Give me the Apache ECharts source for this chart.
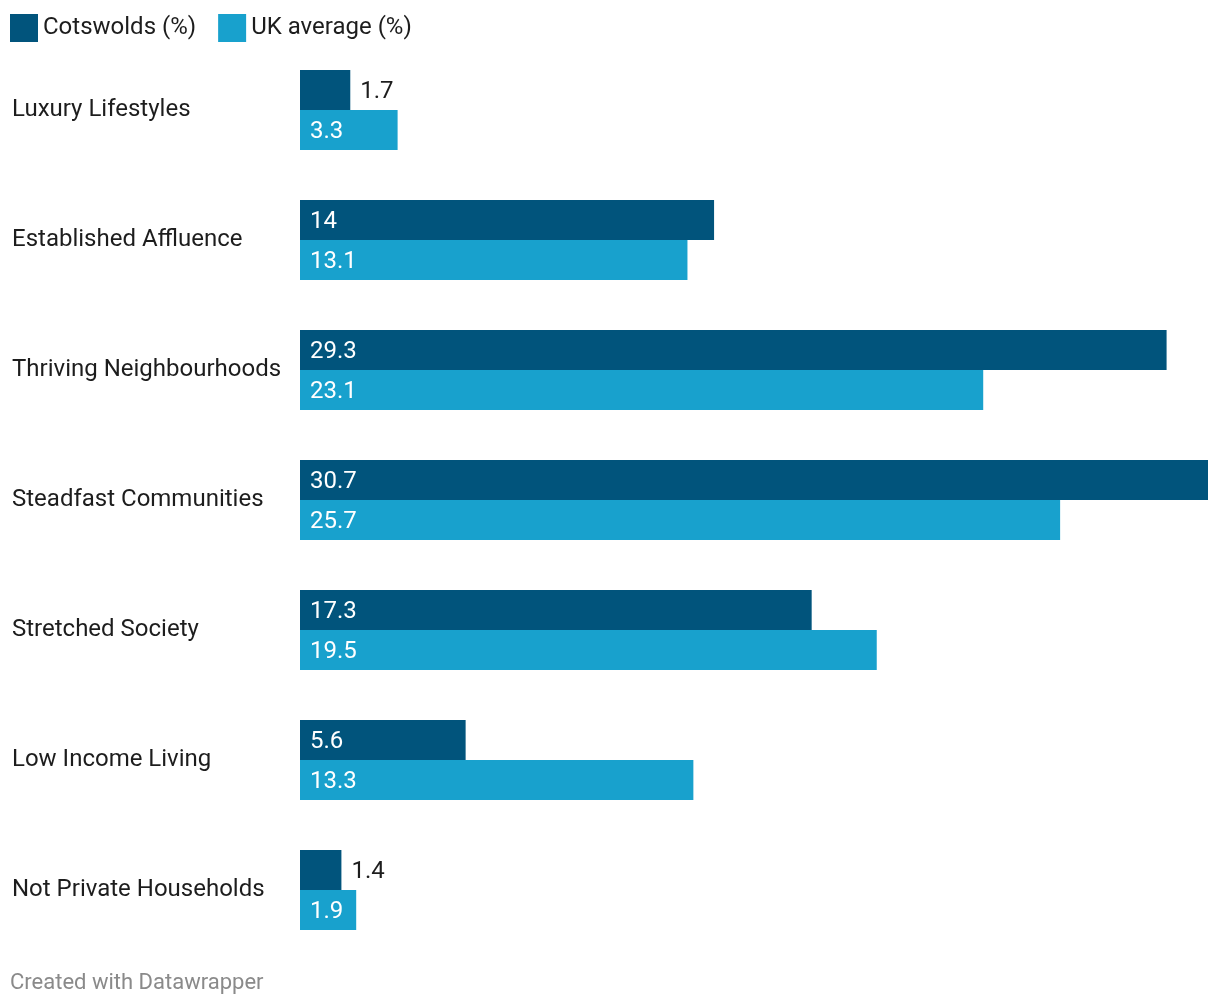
<!DOCTYPE html>
<html>
<head>
<meta charset="utf-8">
<style>
html,body{margin:0;padding:0;background:#fff;}
#chart{width:1220px;height:1006px;}
</style>
<script src="https://cdn.jsdelivr.net/npm/echarts@6/dist/echarts.min.js"></script>
</head>
<body>
<div id="chart"></div>
<script>
const categories = ["Luxury Lifestyles","Established Affluence","Thriving Neighbourhoods","Steadfast Communities","Stretched Society","Low Income Living","Not Private Households"];
const cotswolds = [1.7, 14, 29.3, 30.7, 17.3, 5.6, 1.4];
const ukAverage = [3.3, 13.1, 23.1, 25.7, 19.5, 13.3, 1.9];
const seriesNames = ["Cotswolds (%)", "UK average (%)"];
const colors = ["#01547c", "#18a1cd"];

const FONT = "Roboto";
function mk(vals){
  return vals.map(v => {
    const small = v < 1.8;
    return {
      value: v,
      label: small
        ? {position: 'right', distance: 10, color: '#1d1d1d'}
        : {position: 'insideLeft', distance: 10, color: '#ffffff'}
    };
  });
}
const chart = echarts.init(document.getElementById('chart'));
chart.setOption({
  animation: false,
  color: colors,
  textStyle: {fontFamily: FONT},
  legend: {
    left: 10, top: 14, padding: 0, icon: 'rect', itemWidth: 28, itemHeight: 28, itemGap: 22,
    textStyle: {fontFamily: FONT, fontSize: 24, color: '#1d1d1d', padding: [3,0,0,0]},
    data: seriesNames
  },
  grid: {left: 300, right: 12, top: 45, bottom: 51, containLabel: false},
  xAxis: {type: 'value', min: 0, max: 30.7, show: false},
  yAxis: {
    type: 'category', data: categories, inverse: true,
    axisLine: {show: false}, axisTick: {show: false}, splitLine: {show: false},
    axisLabel: {align: 'left', margin: 288, fontFamily: FONT, fontSize: 24, color: '#1d1d1d'}
  },
  series: [
    {name: seriesNames[0], type: 'bar', data: mk(cotswolds), barWidth: 40, barGap: '0%',
     label: {show: true, fontFamily: FONT, fontSize: 24, offset: [0, 2]}},
    {name: seriesNames[1], type: 'bar', data: mk(ukAverage), barWidth: 40, barGap: '0%',
     label: {show: true, fontFamily: FONT, fontSize: 24, offset: [0, 2]}}
  ],
  graphic: [{type: 'text', left: 10, top: 972, style: {text: 'Created with Datawrapper', fontFamily: FONT, fontSize: 22, fill: '#8a8a8a'}}]
});
</script>
</body>
</html>
